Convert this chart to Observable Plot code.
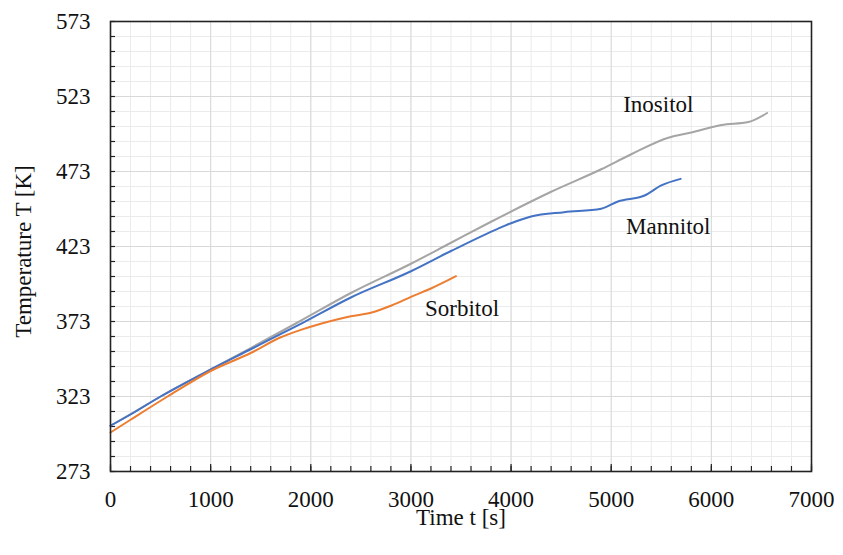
<!DOCTYPE html>
<html>
<head>
<meta charset="utf-8">
<script src="https://cdn.jsdelivr.net/npm/d3@7"></script>
<script src="https://cdn.jsdelivr.net/npm/@observablehq/plot@0.6"></script>
<style>
  html, body { margin: 0; padding: 0; background: #fff; }
  #chart svg { display: block; }
  #chart svg text { font-family: "Liberation Serif", "Times New Roman", Times, serif !important; }
</style>
</head>
<body>
<div id="chart"></div>
<script>
// ---- Data ----
const inositolT = [0, 200, 500, 1000, 1400, 1900, 2400, 3000, 3400, 3800, 4200, 4400, 4900, 5200, 5570, 5800, 6100, 6370, 6557];
const inositolK = [303.5, 311.2, 323, 341, 355.3, 373.5, 392, 411.5, 425.5, 439.5, 453, 459.5, 474.5, 484.5, 495.5, 499, 504, 506, 512];

const mannitolT = [0, 200, 500, 1000, 1400, 1900, 2400, 3000, 3400, 3867, 4000, 4200, 4530, 4900, 5067, 5333, 5500, 5693];
const mannitolK = [303.5, 311, 323, 341, 354.5, 371.4, 389, 406.5, 420, 434.8, 438.5, 443, 445.9, 448.2, 453, 457, 463.7, 468.1];

const sorbitolT = [0, 200, 570, 1000, 1400, 1700, 1900, 2100, 2400, 2600, 2800, 3030, 3200, 3450];
const sorbitolK = [299, 307.5, 323, 340, 352, 362.5, 367.4, 371.5, 376.5, 378.8, 383.5, 390.3, 395, 403.2];

const seriesNames = ["Inositol", "Mannitol", "Sorbitol"];
const seriesColors = ["#a5a5a5", "#4472c4", "#ed7d31"];

const xMajorTicks = [0, 1000, 2000, 3000, 4000, 5000, 6000, 7000];
const yMajorTicks = [273, 323, 373, 423, 473, 523, 573];
const xMinorTicks = d3.range(0, 7001, 200);
const yMinorTicks = d3.range(273, 574, 10);

const labelNames = ["Inositol", "Mannitol", "Sorbitol"];
const labelT = [5470, 5570, 3510];
const labelK = [517.7, 436.3, 381.7];

const xTitle = "Time t [s]";
const yTitle = "Temperature T [K]";

// ---- Build tidy rows ----
const rows = [];
[[inositolT, inositolK], [mannitolT, mannitolK], [sorbitolT, sorbitolK]].forEach(([ts, ks], i) => {
  ts.forEach((t, j) => rows.push({series: seriesNames[i], t, k: ks[j]}));
});
const labels = labelNames.map((name, i) => ({name, t: labelT[i], k: labelK[i]}));

const W = 843, H = 555;
const mL = 110, mR = 32, mT = 21, mB = 84;
const plotW = W - mL - mR, plotH = H - mT - mB;
const font = "Liberation Serif, Times New Roman, Times, serif";

const chart = Plot.plot({
  width: W,
  height: H,
  marginLeft: mL,
  marginRight: mR,
  marginTop: mT,
  marginBottom: mB,
  style: {fontFamily: font, fontSize: "23px", color: "#111", background: "#fff"},
  x: {domain: [0, 7000]},
  y: {domain: [273, 573]},
  color: {domain: seriesNames, range: seriesColors},
  marks: [
    // minor grid
    Plot.gridX(xMinorTicks, {stroke: "#ebebeb", strokeOpacity: 1, strokeWidth: 1}),
    Plot.gridY(yMinorTicks, {stroke: "#ebebeb", strokeOpacity: 1, strokeWidth: 1}),
    // major grid
    Plot.gridX(xMajorTicks, {stroke: "#d9d9d9", strokeOpacity: 1, strokeWidth: 1}),
    Plot.gridY(yMajorTicks, {stroke: "#d9d9d9", strokeOpacity: 1, strokeWidth: 1}),
    // inward ticks
    Plot.tickY(yMinorTicks, {y: d => d, stroke: "#222", strokeWidth: 1.2, insetRight: plotW - 5}),
    Plot.tickX(xMinorTicks, {x: d => d, stroke: "#222", strokeWidth: 1.2, insetTop: plotH - 5}),
    Plot.tickX(xMajorTicks, {x: d => d, stroke: "#222", strokeWidth: 1.2, insetTop: plotH - 7}),
    // axes labels
    Plot.axisX({ticks: xMajorTicks, tickSize: 0, tickPadding: 19, label: null, tickFormat: d => String(d), fontSize: 23, fontFamily: font, fill: "#111"}),
    Plot.axisY({ticks: yMajorTicks, tickSize: 0, tickPadding: 20, label: null, tickFormat: d => String(d), fontSize: 23, fontFamily: font, fill: "#111"}),
    // lines
    Plot.line(rows, {x: "t", y: "k", z: "series", stroke: "series", strokeWidth: 2, curve: "monotone-x"}),
    // series labels
    Plot.text(labels, {x: "t", y: "k", text: "name", fontSize: 23, fontFamily: font, fill: "#111"}),
    // axis titles
    Plot.text([xTitle], {frameAnchor: "bottom", textAnchor: "middle", lineAnchor: "middle", dy: 46, text: d => d, fontSize: 23, fontFamily: font, fill: "#111"}),
    Plot.text([yTitle], {frameAnchor: "left", textAnchor: "middle", lineAnchor: "middle", dx: -87, dy: 5, rotate: -90, text: d => d, fontSize: 23, fontFamily: font, fill: "#111"}),
    // frame
    Plot.frame({stroke: "#222", strokeWidth: 1.6})
  ]
});
document.getElementById("chart").appendChild(chart);
</script>
</body>
</html>
